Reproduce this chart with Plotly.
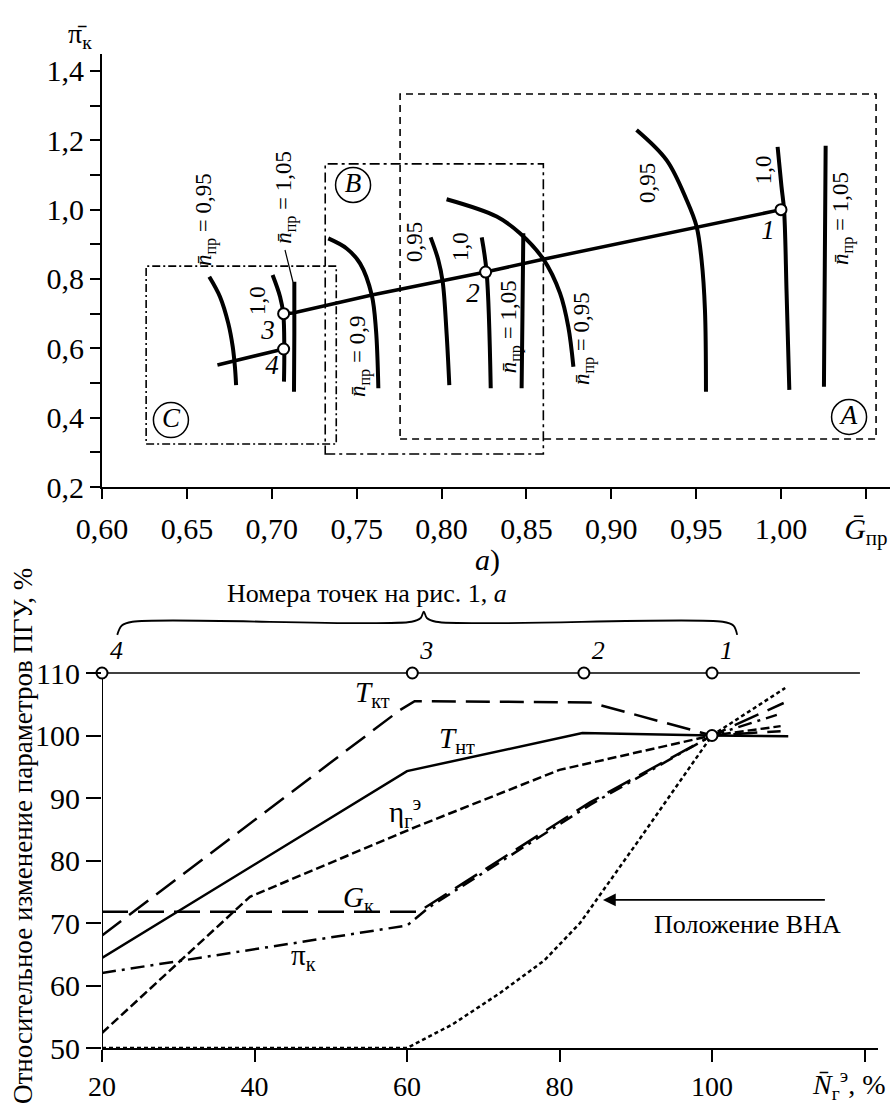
import plotly.graph_objects as go

FONT = "Liberation Serif"

# ================= (a) compressor map =================
# operating line: point 3 -> point 2 -> point 1
op_G = [0.707, 0.7125, 0.759, 0.826, 0.860, 0.950, 1.000]
op_pi = [0.700, 0.702, 0.754, 0.820, 0.857, 0.950, 1.000]
# branch from point 4 to the left
op4_G = [0.707, 0.668]
op4_pi = [0.598, 0.552]

# operating points 1..4
pts_G = [1.000, 0.826, 0.707, 0.707]
pts_pi = [1.000, 0.820, 0.700, 0.598]
pts_lbl = ["1", "2", "3", "4"]
pts_lbl_G = [0.9923, 0.8186, 0.6978, 0.7001]
pts_lbl_pi = [0.9355, 0.754, 0.647, 0.546]

# speed lines, region C
c095_G = [0.6632, 0.6695, 0.6744, 0.6770, 0.6783, 0.6790]
c095_pi = [0.8066, 0.749, 0.672, 0.605, 0.547, 0.494]
c100_G = [0.7005, 0.7049, 0.7068, 0.7074, 0.7072]
c100_pi = [0.8115, 0.749, 0.699, 0.598, 0.504]
c105_G = [0.7133, 0.7133, 0.7131]
c105_pi = [0.792, 0.642, 0.475]
# speed lines, region B
b090_G = [0.7333, 0.7441, 0.7520, 0.7589, 0.7614, 0.7628]
b090_pi = [0.917, 0.888, 0.845, 0.754, 0.653, 0.485]
b095_G = [0.7936, 0.7981, 0.8007, 0.8030, 0.8046]
b095_pi = [0.920, 0.855, 0.792, 0.643, 0.494]
b100_G = [0.8237, 0.8266, 0.8290]
b100_pi = [0.920, 0.818, 0.485]
b105_G = [0.8482, 0.8477, 0.8472]
b105_pi = [0.932, 0.700, 0.485]
# speed lines, region A
a095l_G = [0.8030, 0.8325, 0.8462, 0.8600, 0.8698, 0.8747, 0.8777]
a095l_pi = [1.030, 0.980, 0.932, 0.857, 0.759, 0.662, 0.547]
a095_G = [0.9149, 0.9326, 0.9444, 0.9503, 0.9532, 0.9552, 0.9558]
a095_pi = [1.230, 1.143, 1.028, 0.951, 0.855, 0.711, 0.475]
a100_G = [0.9980, 1.0003, 1.0018, 1.0033, 1.0049]
a100_pi = [1.181, 1.066, 0.999, 0.759, 0.480]
a105_G = [1.0263, 1.0258, 1.0253]
a105_pi = [1.184, 0.840, 0.489]

speed_curves = [
    (c095_G, c095_pi), (c100_G, c100_pi), (c105_G, c105_pi),
    (b090_G, b090_pi), (b095_G, b095_pi), (b100_G, b100_pi), (b105_G, b105_pi),
    (a095l_G, a095l_pi), (a095_G, a095_pi), (a100_G, a100_pi), (a105_G, a105_pi),
]

# leader line from label to the 1,05 line in region C
leader_G = [0.7078, 0.7125]
leader_pi = [0.8836, 0.7913]

# regions A, B, C (G range, pi range)
boxA_G = [0.7756, 1.0560]
boxA_pi = [0.3385, 1.3335]
boxB_G = [0.7315, 0.8600]
boxB_pi = [0.2950, 1.1320]
boxC_G = [0.6260, 0.7380]
boxC_pi = [0.3240, 0.8370]

region_lbl = ["A", "B", "C"]
region_G = [1.0401, 0.7479, 0.6406]
region_pi = [0.402, 1.071, 0.393]

NB = "<i>n\u0304</i><sub>пр</sub> = "
speed_lbl_text = [NB + "0,95", NB + "1,05", "1,0",
                  NB + "0,9", "0,95", "1,0", NB + "1,05",
                  NB + "0,95", "0,95", "1,0", NB + "1,05"]
speed_lbl_G = [0.6607, 0.7084, 0.6913,
               0.7520, 0.7844, 0.8109, 0.8404,
               0.8840, 0.9217, 0.9894, 1.0365]
speed_lbl_pi = [0.970, 1.034, 0.739,
                0.575, 0.907, 0.892, 0.661,
                0.627, 1.077, 1.114, 0.976]

top_xticks = [0.60, 0.65, 0.70, 0.75, 0.80, 0.85, 0.90, 0.95, 1.00, 1.05]
top_xtext = ["0,60", "0,65", "0,70", "0,75", "0,80", "0,85", "0,90", "0,95", "1,00",
             "<i>G\u0304</i><sub>пр</sub>"]
top_yticks = [0.2, 0.3, 0.4, 0.5, 0.6, 0.7, 0.8, 0.9, 1.0, 1.1, 1.2, 1.3, 1.4]
top_ytext = ["0,2", "", "0,4", "", "0,6", "", "0,8", "", "1,0", "", "1,2", "", "1,4"]

# ================= (b) relative change of CCGT parameters =================
N_pts = [20, 60.7, 83.2, 100]
N_pts_lbl = ["4", "3", "2", "1"]
ref_level = 110
ref_line_N = [20, 119.4]

Tkt_N = [20, 59, 61, 84, 100, 109]
Tkt_v = [68.0, 104.0, 105.5, 105.3, 100.0, 100.7]
Tnt_N = [20, 60, 83, 100, 110]
Tnt_v = [64.4, 94.3, 100.4, 100.0, 99.9]
eta_N = [20, 39.4, 61, 80, 100, 109]
eta_v = [52.4, 74.2, 85.3, 94.5, 100.0, 101.5]
Gk_N = [20, 61.5, 84, 100, 109.4]
Gk_v = [71.8, 71.8, 89.3, 100.0, 105.2]
pik_N = [20, 60, 63, 84, 100, 108.5]
pik_v = [62.0, 69.6, 72.6, 88.9, 100.0, 103.3]
vna_N = [20, 60, 66, 72.2, 78, 82.7, 90.6, 100, 109.6]
vna_v = [50.0, 50.0, 53.8, 58.8, 64.0, 70.0, 83.6, 100.0, 107.6]

bot_xticks = [20, 40, 60, 80, 100, 120]
bot_xtext = ["20", "40", "60", "80", "100", ""]
bot_yticks = [50, 60, 70, 80, 90, 100, 110]

# brace over the point numbers
brace_N = [22.0, 22.6, 24.0, 60.6, 61.8, 62.2, 62.6, 63.8, 101.4, 102.8, 103.3]
brace_v = [116.1, 117.6, 118.2, 118.2, 118.8, 119.8, 118.8, 118.2, 118.2, 117.6, 116.1]

fig = go.Figure()

# ---- top chart traces ----
for g, p in speed_curves:
    fig.add_trace(go.Scatter(x=g, y=p, mode="lines", line=dict(color="black", width=4, shape="spline"),
                             xaxis="x", yaxis="y", showlegend=False, hoverinfo="skip"))
fig.add_trace(go.Scatter(x=leader_G, y=leader_pi, mode="lines", line=dict(color="black", width=1.2),
                         xaxis="x", yaxis="y", showlegend=False))
fig.add_trace(go.Scatter(x=op_G, y=op_pi, mode="lines", line=dict(color="black", width=3.5),
                         xaxis="x", yaxis="y", showlegend=False))
fig.add_trace(go.Scatter(x=op4_G, y=op4_pi, mode="lines", line=dict(color="black", width=3.5),
                         xaxis="x", yaxis="y", showlegend=False))
fig.add_trace(go.Scatter(x=pts_G, y=pts_pi, mode="markers",
                         marker=dict(symbol="circle", size=11, color="white", line=dict(color="black", width=2)),
                         xaxis="x", yaxis="y", showlegend=False, cliponaxis=False))
fig.add_trace(go.Scatter(x=pts_lbl_G, y=pts_lbl_pi, mode="text", text=["<i>%s</i>" % t for t in pts_lbl],
                         textfont=dict(family=FONT, size=27, color="black"),
                         xaxis="x", yaxis="y", showlegend=False))
fig.add_trace(go.Scatter(x=region_G, y=region_pi, mode="markers+text", text=["<i>%s</i>" % t for t in region_lbl],
                         textposition="middle center",
                         marker=dict(symbol="circle-open", size=35, color="black", line=dict(width=1.5)),
                         textfont=dict(family=FONT, size=27, color="black"),
                         xaxis="x", yaxis="y", showlegend=False))

# ---- bottom chart traces ----
fig.add_trace(go.Scatter(x=[bot_xticks[0], bot_xticks[0]], y=[bot_yticks[0], bot_yticks[-1]], mode="lines",
                         line=dict(color="black", width=2), xaxis="x2", yaxis="y2", showlegend=False))
fig.add_trace(go.Scatter(x=ref_line_N, y=[ref_level, ref_level], mode="lines",
                         line=dict(color="black", width=1.5), xaxis="x2", yaxis="y2", showlegend=False))
fig.add_trace(go.Scatter(x=brace_N, y=brace_v, mode="lines", line=dict(color="black", width=1.8, shape="spline"),
                         xaxis="x2", yaxis="y2", showlegend=False))
fig.add_trace(go.Scatter(x=vna_N, y=vna_v, mode="lines", line=dict(color="black", width=2.5, dash="4px,3px"),
                         xaxis="x2", yaxis="y2", showlegend=False))
fig.add_trace(go.Scatter(x=eta_N, y=eta_v, mode="lines", line=dict(color="black", width=2.5, dash="9px,4px"),
                         xaxis="x2", yaxis="y2", showlegend=False))
fig.add_trace(go.Scatter(x=pik_N, y=pik_v, mode="lines", line=dict(color="black", width=2.5, dash="14px,6px,3px,6px"),
                         xaxis="x2", yaxis="y2", showlegend=False))
fig.add_trace(go.Scatter(x=Gk_N, y=Gk_v, mode="lines", line=dict(color="black", width=2.5, dash="26px,10px"),
                         xaxis="x2", yaxis="y2", showlegend=False))
fig.add_trace(go.Scatter(x=Tkt_N, y=Tkt_v, mode="lines", line=dict(color="black", width=2.5, dash="24px,10px"),
                         xaxis="x2", yaxis="y2", showlegend=False))
fig.add_trace(go.Scatter(x=Tnt_N, y=Tnt_v, mode="lines", line=dict(color="black", width=2.5),
                         xaxis="x2", yaxis="y2", showlegend=False))
fig.add_trace(go.Scatter(x=N_pts, y=[ref_level] * len(N_pts), mode="markers+text",
                         text=["<i>%s</i>" % t for t in N_pts_lbl], textposition="top right",
                         textfont=dict(family=FONT, size=26, color="black"),
                         marker=dict(symbol="circle", size=11, color="white", line=dict(color="black", width=2)),
                         xaxis="x2", yaxis="y2", showlegend=False, cliponaxis=False))
# the operating point 1 at 100 %
fig.add_trace(go.Scatter(x=[N_pts[-1]], y=[100], mode="markers",
                         marker=dict(symbol="circle", size=11, color="white", line=dict(color="black", width=2)),
                         xaxis="x2", yaxis="y2", showlegend=False, cliponaxis=False))

shapes = []
for (gx, py), dash in [((boxA_G, boxA_pi), "7px,5px"),
                       ((boxB_G, boxB_pi), "10px,4px,3px,4px"),
                       ((boxC_G, boxC_pi), "8px,3px,2px,3px")]:
    shapes.append(dict(type="rect", xref="x", yref="y", x0=gx[0], x1=gx[1], y0=py[0], y1=py[1],
                       line=dict(color="black", width=1.6, dash=dash), layer="below"))

ann = []
for t, g, p in zip(speed_lbl_text, speed_lbl_G, speed_lbl_pi):
    ann.append(dict(x=g, y=p, xref="x", yref="y", text=t, showarrow=False, textangle=-90,
                    font=dict(family=FONT, size=23, color="black")))
ann.append(dict(x=80 / 895, y=1 - 36 / 1106, xref="paper", yref="paper", text="π\u0304<sub>к</sub>",
                showarrow=False, xanchor="center", yanchor="middle",
                font=dict(family=FONT, size=28, color="black")))
ann.append(dict(x=487 / 895, y=1 - 560 / 1106, xref="paper", yref="paper", text="<i>а</i>)", showarrow=False,
                xanchor="center", yanchor="middle",
                font=dict(family=FONT, size=30, color="black")))

# bottom chart labels
curve_lbl = ["<i>T</i><sub>кт</sub>", "<i>T</i><sub>нт</sub>", "η<sub>г</sub><sup>э</sup>",
             "<i>G</i><sub>к</sub>", "π<sub>к</sub>"]
curve_lbl_N = [55.5, 66.6, 59.7, 53.6, 46.4]
curve_lbl_v = [106.6, 99.3, 87.8, 73.9, 64.6]
for t, n, v in zip(curve_lbl, curve_lbl_N, curve_lbl_v):
    ann.append(dict(x=n, y=v, xref="x2", yref="y2", text=t, showarrow=False,
                    font=dict(family=FONT, size=29, color="black")))
ann.append(dict(x=367 / 895, y=1 - 593 / 1106, xref="paper", yref="paper", text="Номера точек на рис. 1, <i>а</i>",
                showarrow=False, xanchor="center", yanchor="middle",
                font=dict(family=FONT, size=26, color="black")))
ann.append(dict(x=104.7, y=69.7, xref="x2", yref="y2", text="Положение ВНА",
                showarrow=False, font=dict(family=FONT, size=26, color="black")))
ann.append(dict(x=85.7, y=73.7, ax=115, ay=73.7, xref="x2", yref="y2", axref="x2", ayref="y2",
                text="", showarrow=True, arrowhead=2, arrowsize=1.6, arrowwidth=1.6, arrowcolor="black",
                standoff=0))
ann.append(dict(x=23 / 895, y=1 - 836 / 1106, xref="paper", yref="paper",
                text="Относительное изменение параметров ПГУ, %", showarrow=False, textangle=-90,
                font=dict(family=FONT, size=27, color="black"), xanchor="center", yanchor="middle"))
ann.append(dict(x=848 / 895, y=1 - 1084 / 1106, xref="paper", yref="paper",
                text="<i>N\u0304</i><sub>г</sub><sup>э</sup>, %", showarrow=False,
                font=dict(family=FONT, size=28, color="black"), xanchor="center", yanchor="middle"))

axis_common = dict(showgrid=False, zeroline=False, color="black", ticks="outside", tickwidth=1.6,
                   tickcolor="black", automargin=False)

fig.update_layout(
    template="none",
    width=895, height=1106, autosize=False,
    margin=dict(l=0, r=0, t=0, b=0, pad=0),
    font=dict(family=FONT, color="black"),
    paper_bgcolor="white", plot_bgcolor="white",
    showlegend=False,
    xaxis=dict(domain=[102 / 895, 890 / 895], range=[0.6, 1.06421], anchor="y",
               showline=True, linewidth=2, linecolor="black", ticklen=10,
               tickvals=top_xticks, ticktext=top_xtext, ticklabelstandoff=4,
               tickfont=dict(family=FONT, size=30, color="black"), **axis_common),
    yaxis=dict(domain=[1 - 487 / 1106, 1 - 54 / 1106], range=[0.2, 1.44892], anchor="x",
               showline=True, linewidth=2, linecolor="black", ticklen=10,
               tickvals=top_yticks, ticktext=top_ytext,
               tickfont=dict(family=FONT, size=30, color="black"), **axis_common),
    xaxis2=dict(domain=[102 / 895, 878 / 895], range=[20, 121.77], anchor="y2",
                showline=True, linewidth=2, linecolor="black", ticklen=12,
                tickvals=bot_xticks, ticktext=bot_xtext, ticklabelstandoff=0,
                tickfont=dict(family=FONT, size=28, color="black"), **axis_common),
    yaxis2=dict(domain=[1 - 1048 / 1106, 1 - 598 / 1106], range=[50, 122], anchor="x2",
                showline=False, ticklen=15,
                tickvals=bot_yticks, ticktext=[str(v) for v in bot_yticks],
                tickfont=dict(family=FONT, size=30, color="black"), **axis_common),
    shapes=shapes,
    annotations=ann,
)

fig.write_html("out.html", config={"displayModeBar": False},
               post_script="document.body.style.margin='0';")
